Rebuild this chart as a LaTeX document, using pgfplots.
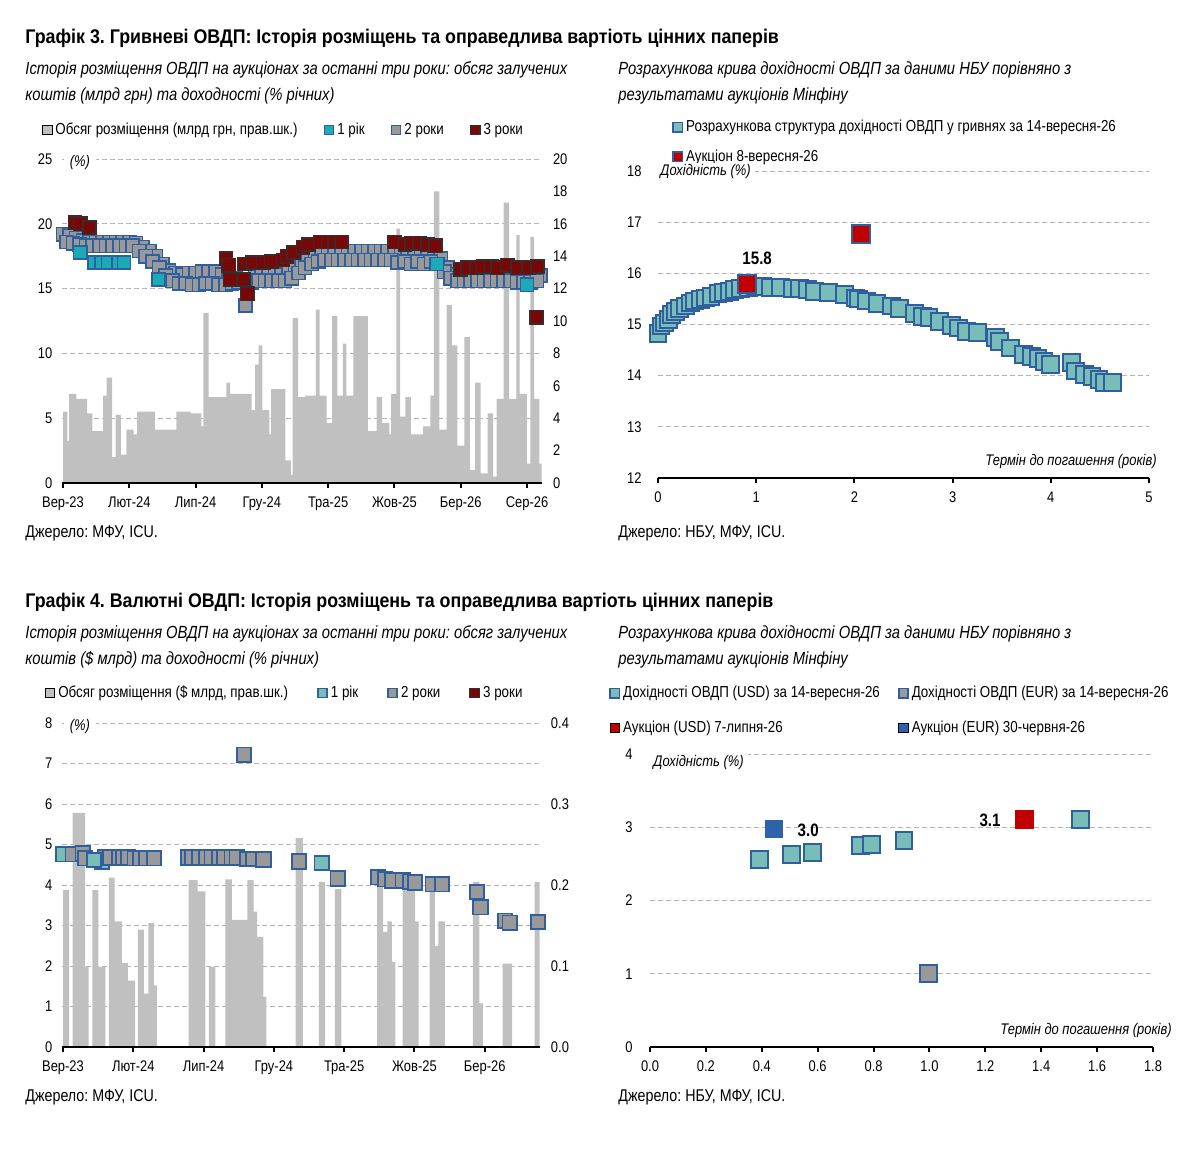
\documentclass[border=0pt]{standalone}
\usepackage{fontspec}
\setmainfont{Liberation Sans}[FakeStretch=0.84]
\newfontfamily\titlefam{Liberation Sans}[FakeStretch=0.9]
\usepackage{pgfplots}
\pgfplotsset{compat=1.18}
\frenchspacing

\definecolor{bargray}{HTML}{C0C0C0}
\definecolor{gridgray}{HTML}{B4B4B4}
\definecolor{mblue}{HTML}{2F5F9E}
\definecolor{cyan1}{HTML}{1BAAB6}
\definecolor{teal2}{HTML}{78BDB7}
\definecolor{mgray}{HTML}{999999}
\definecolor{dred}{HTML}{780808}
\definecolor{dborder}{HTML}{3A2A2A}
\definecolor{ared}{HTML}{C00000}
\definecolor{eblue}{HTML}{2E63A8}

\newcommand\titlefont{\titlefam\fontsize{9.9}{11}\selectfont\bfseries}
\newcommand\subfont{\fontsize{8.8}{10}\selectfont\itshape}
\newcommand\tickfont{\fontsize{7.7}{9}\selectfont}
\newcommand\legfont{\fontsize{7.95}{9}\selectfont}
\newcommand\srcfont{\fontsize{8.5}{10}\selectfont}
\newcommand\labfont{\fontsize{7.7}{9}\selectfont\itshape}
\newcommand\bfont{\fontsize{9}{10}\selectfont\bfseries}

\pgfplotsset{
  every axis/.append style={
    /pgf/number format/assume math mode=true,
    scale only axis,
    anchor=south west,
    tick label style={font=\tickfont},
    grid style={gridgray, line width=0.5pt, dash pattern=on 2.5pt off 1.5pt},
  },
  gridaxis/.style={axis x line=none, axis y line*=left, y axis line style={draw=none},
    major y tick style={draw=none}, ymajorgrids,
    yticklabel style={anchor=east, inner xsep=0pt, xshift=-4.5pt}},
  baraxis/.style={axis x line=none, axis y line*=right, y axis line style={draw=none},
    major y tick style={draw=none},
    yticklabel style={anchor=west, inner xsep=0pt, xshift=5.5pt}},
  xbase/.style={axis x line*=bottom,
    x axis line style={line width=1.3pt, -}, tick align=outside,
    major x tick style={black, line width=1pt}, major tick length=2.5pt,
    xticklabel style={inner ysep=0pt, yshift=-4pt}, clip=false},
  markaxis/.style={xbase, axis y line=none},
  scataxis/.style={xbase, axis y line*=left, y axis line style={draw=none},
    major y tick style={draw=none}, ymajorgrids},
  sq/.style={only marks, mark=square*, forget plot},
  legsq/.style={legend cell align=left,
    legend image code/.code={\draw[##1] (0pt,-2.3pt) rectangle (4.6pt,2.3pt);}},
}

\begin{document}
\begin{tikzpicture}
\useasboundingbox (0,0) rectangle (599.5pt,-578.5pt);

% ================= Panel 1 =================
\begin{axis}[gridaxis, at={(30.85pt,-241.5pt)}, width=239.95pt, height=162pt,
  xmin=-0.1, xmax=36.1, ymin=0, ymax=25, ytick={0,5,...,25}]
\addplot[draw=none, forget plot] coordinates {(0,0)};
\end{axis}
\begin{axis}[baraxis, at={(30.85pt,-241.5pt)}, width=239.95pt, height=162pt,
  xmin=-0.1, xmax=36.1, ymin=0, ymax=20, ytick={0,2,...,20}]
\addplot[ybar interval, fill=bargray, draw=none, forget plot] coordinates {
(0,4.4) (0.32,2.6) (0.46,5.5) (1.0,5.2) (1.81,4.3) (2.21,3.2) (3.02,5.4) (3.29,6.5) (3.70,1.6) (3.97,4.2)
(4.37,1.75) (4.78,3.3) (5.32,3.0) (5.59,4.4) (6.93,3.3) (8.55,4.4) (9.63,4.3) (10.44,3.5) (10.58,10.5) (10.98,5.3)
(12.33,6.2) (12.60,5.5) (14.22,4.5) (14.49,7.3) (14.76,8.5) (15.03,4.5) (15.57,3.0) (15.70,5.8) (16.78,1.4) (17.19,0.5)
(17.32,10.2) (17.73,5.3) (18.27,5.4) (19.08,10.7) (19.35,5.4) (19.89,3.7) (20.29,10.3) (20.70,5.4) (21.10,8.6) (21.37,5.4)
(21.91,10.3) (22.99,3.2) (23.66,5.3) (24.07,3.7) (24.61,3.0) (24.74,5.5) (25.15,15.7) (25.42,4.1) (25.82,5.3) (26.23,3.0)
(27.17,3.5) (27.71,5.4) (27.98,18.0) (28.39,3.3) (28.93,11.0) (29.33,8.5) (29.74,2.3) (30.28,9.0) (30.69,0.8) (31.09,6.2)
(31.50,0.6) (32.03,4.3) (32.44,0.4) (32.70,5.2) (33.24,17.3) (33.65,5.2) (34.19,15.3) (34.45,5.5) (34.99,1.2) (35.26,15.2)
(35.53,5.2) (35.94,1.2) (36.1,0)};
\end{axis}
\begin{axis}[markaxis, legsq, at={(30.85pt,-241.5pt)}, width=239.95pt, height=162pt,
  xmin=-0.1, xmax=36.1, ymin=0, ymax=25,
  xtick={0,5,...,35}, xticklabels={Вер-23,Лют-24,Лип-24,Гру-24,Тра-25,Жов-25,Бер-26,Сер-26},
  legend columns=4,
  legend style={draw=none, fill=none, at={(-0.041,1.0895)}, anchor=west, inner sep=0pt,
    font=\legfont, /tikz/every even column/.append style={column sep=11.5pt},
    nodes={inner xsep=1.5pt, inner ysep=0pt}}]
\addlegendimage{fill=bargray, draw=none}
\addlegendentry{Обсяг розміщення (млрд грн, прав.шк.)}
\addlegendimage{fill=cyan1, draw=mblue, line width=0.8pt}
\addlegendentry{1 рік}
\addlegendimage{fill=mgray, draw=mblue, line width=0.8pt}
\addlegendentry{2 роки}
\addlegendimage{fill=dred, draw=dborder, line width=0.8pt}
\addlegendentry{3 роки}
% 2 years, upper row
\addplot[sq, mark size=3.3pt, mark options={fill=mgray, draw=mblue, line width=0.8pt}] coordinates {
(0,19.2) (0.5,19.1) (1,18.9) (1.5,18.7) (2,18.6) (2.5,18.6) (3,18.6) (3.5,18.6) (4,18.6) (4.5,18.6)
(5,18.6) (5.5,18.5) (6,18.2) (6.5,17.9) (7,17.5) (7.5,16.9) (8,16.4) (8.5,16.2) (9,16.1) (9.5,16.2)
(10,16.2) (10.5,16.3) (11,16.3) (11.5,16.3) (12,16.1) (12.5,15.9) (13,15.8) (13.5,15.7) (14,15.6) (14.5,15.9)
(15,16.1) (15.5,16.1) (16,16.1) (16.5,16.1) (17,16.2) (17.5,16.6) (18,17.0) (18.5,17.4) (19,17.7) (19.5,17.9)
(20,17.9) (20.5,17.9) (21,17.9) (21.5,17.9) (22,17.9) (22.5,17.9) (23,17.9) (23.5,17.9) (24,17.9) (24.5,17.9)
(25,17.9) (25.5,17.8) (26,17.8) (26.5,17.8) (27,17.8) (27.5,17.8) (28,17.8) (28.5,17.3) (29,16.6) (29.5,16.1)
(30,16.0) (30.5,16.0) (31,16.0) (31.5,16.0) (32,16.0) (32.5,16.0) (33,16.0) (33.5,16.0) (34,16.0) (34.5,15.9)
(35,15.9) (35.5,15.9) (36,16.0)};
% 2 years, lower row
\addplot[sq, mark size=3.3pt, mark options={fill=mgray, draw=mblue, line width=0.8pt}] coordinates {
(0.25,18.6) (0.75,18.5) (1.25,18.4) (1.75,18.3) (2.25,18.3) (2.75,18.3) (3.25,18.3) (3.75,18.3) (4.25,18.3) (4.75,18.3)
(5.25,18.3) (5.75,17.9) (6.25,17.5) (6.75,17.1) (7.25,16.6) (7.75,16.0) (8.25,15.6) (8.75,15.4) (9.25,15.4) (9.75,15.3)
(10.25,15.3) (10.75,15.4) (11.25,15.4) (11.75,15.3) (12.25,15.3) (12.75,15.4) (13.25,15.5) (13.75,13.7) (14.25,15.5) (14.75,15.6)
(15.25,15.6) (15.75,15.6) (16.25,15.6) (16.75,15.6) (17.25,15.8) (17.75,16.2) (18.25,16.6) (18.75,16.9) (19.25,17.1) (19.75,17.2)
(20.25,17.2) (20.75,17.2) (21.25,17.2) (21.75,17.2) (22.25,17.2) (22.75,17.2) (23.25,17.2) (23.75,17.2) (24.25,17.2) (24.75,17.2)
(25.25,17.0) (25.75,17.1) (26.25,16.9) (26.75,17.1) (27.25,16.9) (27.75,17.1) (28.25,16.9) (28.75,16.3) (29.25,15.8) (29.75,15.6)
(30.25,15.6) (30.75,15.6) (31.25,15.6) (31.75,15.6) (32.25,15.6) (32.75,15.6) (33.25,15.6) (33.75,15.6) (34.25,15.5) (34.75,15.5)
(35.25,15.5) (35.75,15.6)};
% 1 year
\addplot[sq, mark size=3.3pt, mark options={fill=cyan1, draw=mblue, line width=0.8pt}] coordinates {
(1.3,17.8) (2.4,17.0) (2.9,17.0) (3.4,17.0) (4.2,17.0) (4.6,17.0) (7.2,15.7) (28.2,16.9) (35.0,15.3)};
% 3 years
\addplot[sq, mark size=3.3pt, mark options={fill=dred, draw=dborder, line width=0.8pt}] coordinates {
(0.9,20.1) (1.3,20.0) (2.0,19.7) (12.3,17.3) (12.5,16.8) (12.6,15.7) (13.6,15.7) (13.9,14.6) (13.7,16.9) (14.3,17.0)
(15.1,17.0) (15.7,17.1) (16.6,17.2) (16.9,17.5) (17.4,17.8) (18.1,18.2) (18.5,18.4) (19.4,18.6) (20.0,18.6) (20.5,18.6)
(21.0,18.6) (25.0,18.6) (25.8,18.4) (26.3,18.5) (26.9,18.5) (27.5,18.4) (28.1,18.3) (30.0,16.5) (30.5,16.6) (31.2,16.6)
(31.7,16.7) (32.3,16.7) (32.8,16.6) (33.5,16.8) (34.3,16.6) (35.1,16.6) (35.8,16.7) (35.7,12.8)};
\end{axis}

% ================= Panel 2 =================
\begin{axis}[scataxis, legsq, at={(329pt,-239pt)}, width=245.5pt, height=153.5pt,
  xmin=0, xmax=5, ymin=12, ymax=18, xtick={0,1,...,5}, ytick={12,...,18},
  yticklabel style={anchor=east, inner xsep=0pt, xshift=-5.5pt},
  legend style={draw=none, fill=none, at={(0.0285,1.0945)}, anchor=west, inner sep=0pt,
    font=\legfont, row sep=7.5pt, nodes={inner xsep=1.5pt, inner ysep=0pt}}]
\addlegendimage{fill=teal2, draw=mblue, line width=0.8pt}
\addlegendentry{Розрахункова структура дохідності ОВДП у гривнях за 14-вересня-26}
\addlegendimage{fill=ared, draw=mblue, line width=0.8pt}
\addlegendentry{Аукціон 8-вересня-26}
\addplot[sq, mark size=4.2pt, mark options={fill=teal2, draw=mblue, line width=1pt}] coordinates {
(0.00,14.82) (0.03,14.97) (0.07,15.03) (0.11,15.10) (0.14,15.19) (0.18,15.26) (0.22,15.31) (0.28,15.36) (0.33,15.42) (0.37,15.46)
(0.43,15.49) (0.48,15.52) (0.54,15.55) (0.61,15.60) (0.67,15.63) (0.73,15.65) (0.78,15.68) (0.84,15.70) (0.92,15.72) (0.99,15.74)
(1.07,15.75) (1.14,15.73) (1.25,15.72) (1.37,15.70) (1.44,15.70) (1.52,15.68) (1.59,15.65) (1.74,15.63) (1.90,15.59) (2.01,15.52)
(2.04,15.50) (2.12,15.46) (2.23,15.41) (2.38,15.36) (2.46,15.31) (2.61,15.21) (2.69,15.16) (2.76,15.13) (2.87,15.06) (2.99,14.98)
(3.06,14.93) (3.14,14.87) (3.25,14.84) (3.44,14.74) (3.48,14.67) (3.59,14.54) (3.72,14.41) (3.80,14.37) (3.87,14.33) (3.93,14.28)
(4.00,14.22) (4.21,14.25) (4.25,14.09) (4.34,14.02) (4.42,13.99) (4.49,13.92) (4.55,13.87) (4.63,13.86)};
\addplot[sq, mark size=4.5pt, mark options={fill=ared, draw=mblue, line width=1pt}] coordinates {
(0.91,15.80) (2.07,16.77)};
\node[font=\bfont] at (axis cs:1.01,16.30) {15.8};
\end{axis}

% ================= Panel 3 =================
\begin{axis}[gridaxis, at={(30.8pt,-523.5pt)}, width=239pt, height=162pt,
  xmin=-0.1, xmax=33.9, ymin=0, ymax=8, ytick={0,1,...,8}]
\addplot[draw=none, forget plot] coordinates {(0,0)};
\end{axis}
\begin{axis}[baraxis, at={(30.8pt,-523.5pt)}, width=239pt, height=162pt,
  xmin=-0.1, xmax=33.9, ymin=0, ymax=0.4, ytick={0,0.1,0.2,0.3,0.4},
  yticklabel style={/pgf/number format/fixed, /pgf/number format/fixed zerofill, /pgf/number format/precision=1}]
\addplot[ybar interval, fill=bargray, draw=none, forget plot] coordinates {
(0,0.194) (0.43,0) (0.69,0.289) (1.57,0.099) (1.83,0) (2.08,0.194) (2.51,0.099) (3.02,0) (3.27,0.209) (3.68,0.155)
(4.19,0.104) (4.62,0.082) (5.13,0) (5.33,0.145) (5.76,0.066) (6.07,0.153) (6.47,0.076) (6.68,0) (8.93,0.206) (9.57,0.192)
(10.13,0) (10.38,0.099) (10.84,0) (11.55,0.207) (12.01,0.157) (13.12,0.206) (13.55,0.167) (13.81,0.136) (14.26,0.062) (14.47,0)
(16.55,0.258) (17.06,0) (18.2,0.204) (18.65,0) (19.34,0.195) (19.8,0) (22.34,0.210) (22.77,0.142) (23.07,0.155) (23.40,0.105)
(23.65,0) (24.16,0.202) (25.05,0.155) (25.3,0) (26.07,0.194) (26.45,0.125) (26.7,0.155) (27.16,0) (29.16,0.204) (29.62,0.054)
(29.87,0) (31.27,0.103) (31.95,0) (33.55,0.204) (33.98,0)};
\end{axis}
\begin{axis}[markaxis, legsq, at={(30.8pt,-523.5pt)}, width=239pt, height=162pt,
  xmin=-0.1, xmax=33.9, ymin=0, ymax=8,
  xtick={0,5,...,30}, xticklabels={Вер-23,Лют-24,Лип-24,Гру-24,Тра-25,Жов-25,Бер-26},
  legend columns=4,
  legend style={draw=none, fill=none, at={(-0.035,1.0926)}, anchor=west, inner sep=0pt,
    font=\legfont, /tikz/every even column/.append style={column sep=13pt},
    nodes={inner xsep=1.5pt, inner ysep=0pt}}]
\addlegendimage{fill=bargray, draw=none}
\addlegendentry{Обсяг розміщення (\$ млрд, прав.шк.)}
\addlegendimage{fill=teal2, draw=mblue, line width=0.8pt}
\addlegendentry{1 рік}
\addlegendimage{fill=mgray, draw=mblue, line width=0.8pt}
\addlegendentry{2 роки}
\addlegendimage{fill=dred, draw=dborder, line width=0.8pt}
\addlegendentry{3 роки}
\addplot[sq, mark size=3.6pt, mark options={fill=teal2, draw=mblue, line width=0.9pt}] coordinates {
(0,4.76) (2.77,4.58) (18.4,4.54)};
\addplot[sq, mark size=3.6pt, mark options={fill=mgray, draw=mblue, line width=0.9pt}] coordinates {
(0.69,4.76) (1.4,4.78) (1.57,4.66) (3.0,4.68) (3.35,4.68) (3.98,4.68) (4.3,4.68) (4.62,4.68) (5.1,4.66) (5.5,4.66)
(5.9,4.66) (6.47,4.66) (8.9,4.68) (9.19,4.68) (9.7,4.68) (10.2,4.68) (10.58,4.68) (11.1,4.68) (11.47,4.68) (12.0,4.68)
(12.36,4.68) (13.12,4.64) (13.5,4.64) (14.26,4.63) (12.87,7.22) (16.8,4.58) (19.54,4.16) (22.4,4.19) (22.9,4.14) (23.4,4.11)
(24.16,4.11) (24.67,4.08) (25.05,4.06) (26.3,4.02) (26.95,4.02) (29.44,3.83) (29.70,3.45) (31.45,3.12) (31.78,3.07) (33.8,3.09)};
\addplot[sq, mark size=3.6pt, mark options={fill=teal2, draw=mblue, line width=0.9pt}] coordinates {
(2.2,4.62)};
\end{axis}

% ================= Panel 4 =================
\begin{axis}[scataxis, legsq, at={(325pt,-523.5pt)}, width=251.5pt, height=146.5pt,
  xmin=0, xmax=1.8, ymin=0, ymax=4,
  xtick={0,0.2,0.4,0.6,0.8,1.0,1.2,1.4,1.6,1.8}, ytick={0,1,2,3,4},
  xticklabel style={/pgf/number format/fixed, /pgf/number format/fixed zerofill, /pgf/number format/precision=1},
  yticklabel style={anchor=east, inner xsep=0pt, xshift=-6pt},
  legend columns=2,
  legend style={draw=none, fill=none, at={(-0.0815,1.1485)}, anchor=west, inner sep=0pt,
    font=\legfont, row sep=10pt, /tikz/every even column/.append style={column sep=7.5pt},
    nodes={inner xsep=1.5pt, inner ysep=0pt}}]
\addlegendimage{fill=teal2, draw=mblue, line width=0.8pt}
\addlegendentry{Дохідності ОВДП (USD) за 14-вересня-26}
\addlegendimage{fill=mgray, draw=mblue, line width=0.8pt}
\addlegendentry{Дохідності ОВДП (EUR) за 14-вересня-26}
\addlegendimage{fill=ared, draw=none}
\addlegendentry{Аукціон (USD) 7-липня-26}
\addlegendimage{fill=eblue, draw=none}
\addlegendentry{Аукціон (EUR) 30-червня-26}
\addplot[sq, mark size=4.2pt, mark options={fill=teal2, draw=mblue, line width=1pt}] coordinates {
(0.392,2.565) (0.506,2.624) (0.581,2.656) (0.753,2.747) (0.793,2.77) (0.909,2.815) (1.54,3.11)};
\addplot[sq, mark size=4.2pt, mark options={fill=mgray, draw=mblue, line width=1pt}] coordinates {
(0.998,1.007)};
\addplot[sq, mark size=4.4pt, mark options={fill=ared, draw=ared}] coordinates {(1.339,3.11)};
\addplot[sq, mark size=4.4pt, mark options={fill=eblue, draw=eblue}] coordinates {(0.443,2.98)};
\node[font=\bfont] at (axis cs:0.566,2.96) {3.0};
\node[font=\bfont] at (axis cs:1.217,3.09) {3.1};
\end{axis}

% ================= Texts =================
\begin{scope}[x=0.5pt, y=-0.5pt]
\node[anchor=base west, inner sep=0pt, font=\titlefont] at (25,43) {Графік 3. Гривневі ОВДП: Історія розміщень та оправедлива вартіоть цінних паперів};
\node[anchor=base west, inner sep=0pt, font=\subfont] at (25,74) {Історія розміщення ОВДП на аукціонах за останні три роки: обсяг залучених};
\node[anchor=base west, inner sep=0pt, font=\subfont] at (25,100) {коштів (млрд грн) та доходності (\% річних)};
\node[anchor=base west, inner sep=0pt, font=\subfont] at (618,74) {Розрахункова крива дохідності ОВДП за даними НБУ порівняно з};
\node[anchor=base west, inner sep=0pt, font=\subfont] at (618,100) {результатами аукціонів Мінфіну};
\node[anchor=base west, inner sep=0pt, font=\srcfont] at (25,537) {Джерело: МФУ, ICU.};
\node[anchor=base west, inner sep=0pt, font=\srcfont] at (618,537) {Джерело: НБУ, МФУ, ICU.};

\node[anchor=base west, inner sep=0pt, font=\titlefont] at (25,607) {Графік 4. Валютні ОВДП: Історія розміщень та оправедлива вартіоть цінних паперів};
\node[anchor=base west, inner sep=0pt, font=\subfont] at (25,638) {Історія розміщення ОВДП на аукціонах за останні три роки: обсяг залучених};
\node[anchor=base west, inner sep=0pt, font=\subfont] at (25,664) {коштів (\$ млрд) та доходності (\% річних)};
\node[anchor=base west, inner sep=0pt, font=\subfont] at (618,638) {Розрахункова крива дохідності ОВДП за даними НБУ порівняно з};
\node[anchor=base west, inner sep=0pt, font=\subfont] at (618,664) {результатами аукціонів Мінфіну};
\node[anchor=base west, inner sep=0pt, font=\srcfont] at (25,1101) {Джерело: МФУ, ICU.};
\node[anchor=base west, inner sep=0pt, font=\srcfont] at (618,1101) {Джерело: НБУ, МФУ, ICU.};

\node[font=\labfont, fill=white, inner xsep=3pt, inner ysep=1pt] at (80,163) {(\%)};
\node[font=\labfont, fill=white, inner xsep=3pt, inner ysep=1pt] at (80,727) {(\%)};
\node[anchor=west, font=\labfont, fill=white, inner xsep=2pt, inner ysep=1pt] at (656,172) {Дохідність (\%)};
\node[anchor=west, font=\labfont, fill=white, inner xsep=2pt, inner ysep=1pt] at (649,762) {Дохідність (\%)};
\node[anchor=east, inner sep=0pt, font=\labfont] at (1157,462) {Термін до погашення (років)};
\node[anchor=east, inner sep=0pt, font=\labfont] at (1172,1030) {Термін до погашення (років)};
\end{scope}
\end{tikzpicture}
\end{document}
